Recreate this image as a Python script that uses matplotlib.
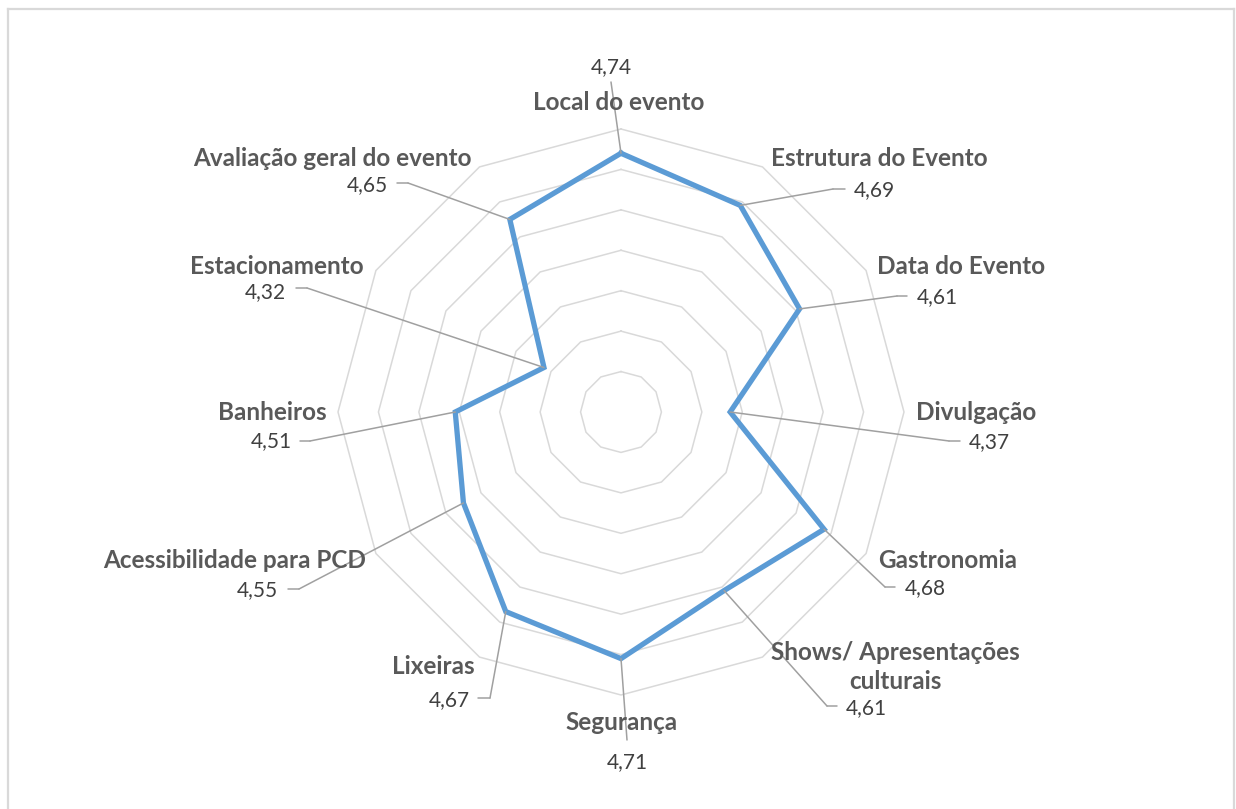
import numpy as np
import matplotlib.pyplot as plt

plt.rcParams['font.family'] = ['Lato', 'DejaVu Sans']

# dados do gráfico
categorias = ['Local do evento', 'Estrutura do Evento', 'Data do Evento', 'Divulgação',
              'Gastronomia', 'Shows/ Apresentações\nculturais', 'Segurança', 'Lixeiras',
              'Acessibilidade para PCD', 'Banheiros', 'Estacionamento',
              'Avaliação geral do evento']
notas = [4.74, 4.69, 4.61, 4.37, 4.68, 4.61, 4.71, 4.67, 4.55, 4.51, 4.32, 4.65]
niveis = [4.2, 4.3, 4.4, 4.5, 4.6, 4.7, 4.8]
r_min = 4.1

# posição dos rótulos em pixels da imagem (x, y a partir do topo)
pos_cat = [(619, 102), (879, 158), (961, 267), (976, 413), (948, 560), (895, 667),
           (622, 723), (433, 667), (235, 560), (272, 413), (277, 267), (332, 159)]
pos_val = [(611, 67), (874, 190), (937, 297), (989, 442), (925, 588), (866, 708),
           (627, 762), (449, 700), (257, 590), (271, 441), (265, 292), (367, 185)]
cotovelo = [(611, 82), (833, 189), (897, 296), (949, 441), (885, 587), (827, 706),
            (627, 740), (490, 698), (299, 589), (310, 441), (307, 288), (408, 183)]
cauda = [None, (845, 189), (907, 296), (960, 441), (895, 587), (837, 706),
         None, (478, 698), (288, 589), (300, 441), (296, 288), (397, 183)]

W, H = 1236, 809
fig = plt.figure(figsize=(W / 100, H / 100), dpi=100)


def px(p):
    return (p[0], H - p[1])


# moldura do gráfico
moldura = dict(color='#D9D9D9', lw=1.6)
fig.add_artist(plt.Line2D([8 / W, 8 / W], [0, 1 - 9 / H], **moldura))
fig.add_artist(plt.Line2D([8 / W, 1234 / W], [1 - 9 / H, 1 - 9 / H], **moldura))
fig.add_artist(plt.Line2D([1234 / W, 1234 / W], [0, 1 - 9 / H], **moldura))

cx, cy, raio = 621, H - 412, 283
ax = fig.add_axes([(cx - raio) / W, (cy - raio) / H, 2 * raio / W, 2 * raio / H],
                  projection='polar')
ax.set_theta_zero_location('N')
ax.set_theta_direction(-1)
ax.set_ylim(r_min, niveis[-1])
ax.grid(False)
ax.spines['polar'].set_visible(False)
ax.set_xticks([])
ax.set_yticks([])
ax.patch.set_alpha(0)

n = len(categorias)
angulos = np.linspace(0, 2 * np.pi, n, endpoint=False)
ang_fech = np.append(angulos, angulos[0])

for nv in niveis:
    ax.plot(ang_fech, [nv] * (n + 1), color='#D9D9D9', lw=1.1, clip_on=False, zorder=1)

ax.plot(ang_fech, notas + [notas[0]], color='#5B9BD5', lw=3.8, clip_on=False,
        zorder=3, solid_joinstyle='miter')

linha = dict(arrowstyle='-', color='#A0A0A0', lw=1.1, shrinkA=0, shrinkB=0)
for i in range(n):
    ax.annotate('', xy=(angulos[i], notas[i]), xycoords='data',
                xytext=px(cotovelo[i]), textcoords='figure pixels',
                arrowprops=linha, zorder=4, annotation_clip=False)
    if cauda[i] is not None:
        ax.annotate('', xy=px(cauda[i]), xycoords='figure pixels',
                    xytext=px(cotovelo[i]), textcoords='figure pixels',
                    arrowprops=linha, zorder=4, annotation_clip=False)
    fig.text(pos_cat[i][0] / W, 1 - pos_cat[i][1] / H, categorias[i],
             ha='center', va='center', fontsize=17.5, fontweight='bold',
             color='#595959', linespacing=1.3)
    fig.text(pos_val[i][0] / W, 1 - pos_val[i][1] / H,
             f'{notas[i]:.2f}'.replace('.', ','),
             ha='center', va='center', fontsize=15, color='#404040')

fig.savefig('out.png', dpi=100)
